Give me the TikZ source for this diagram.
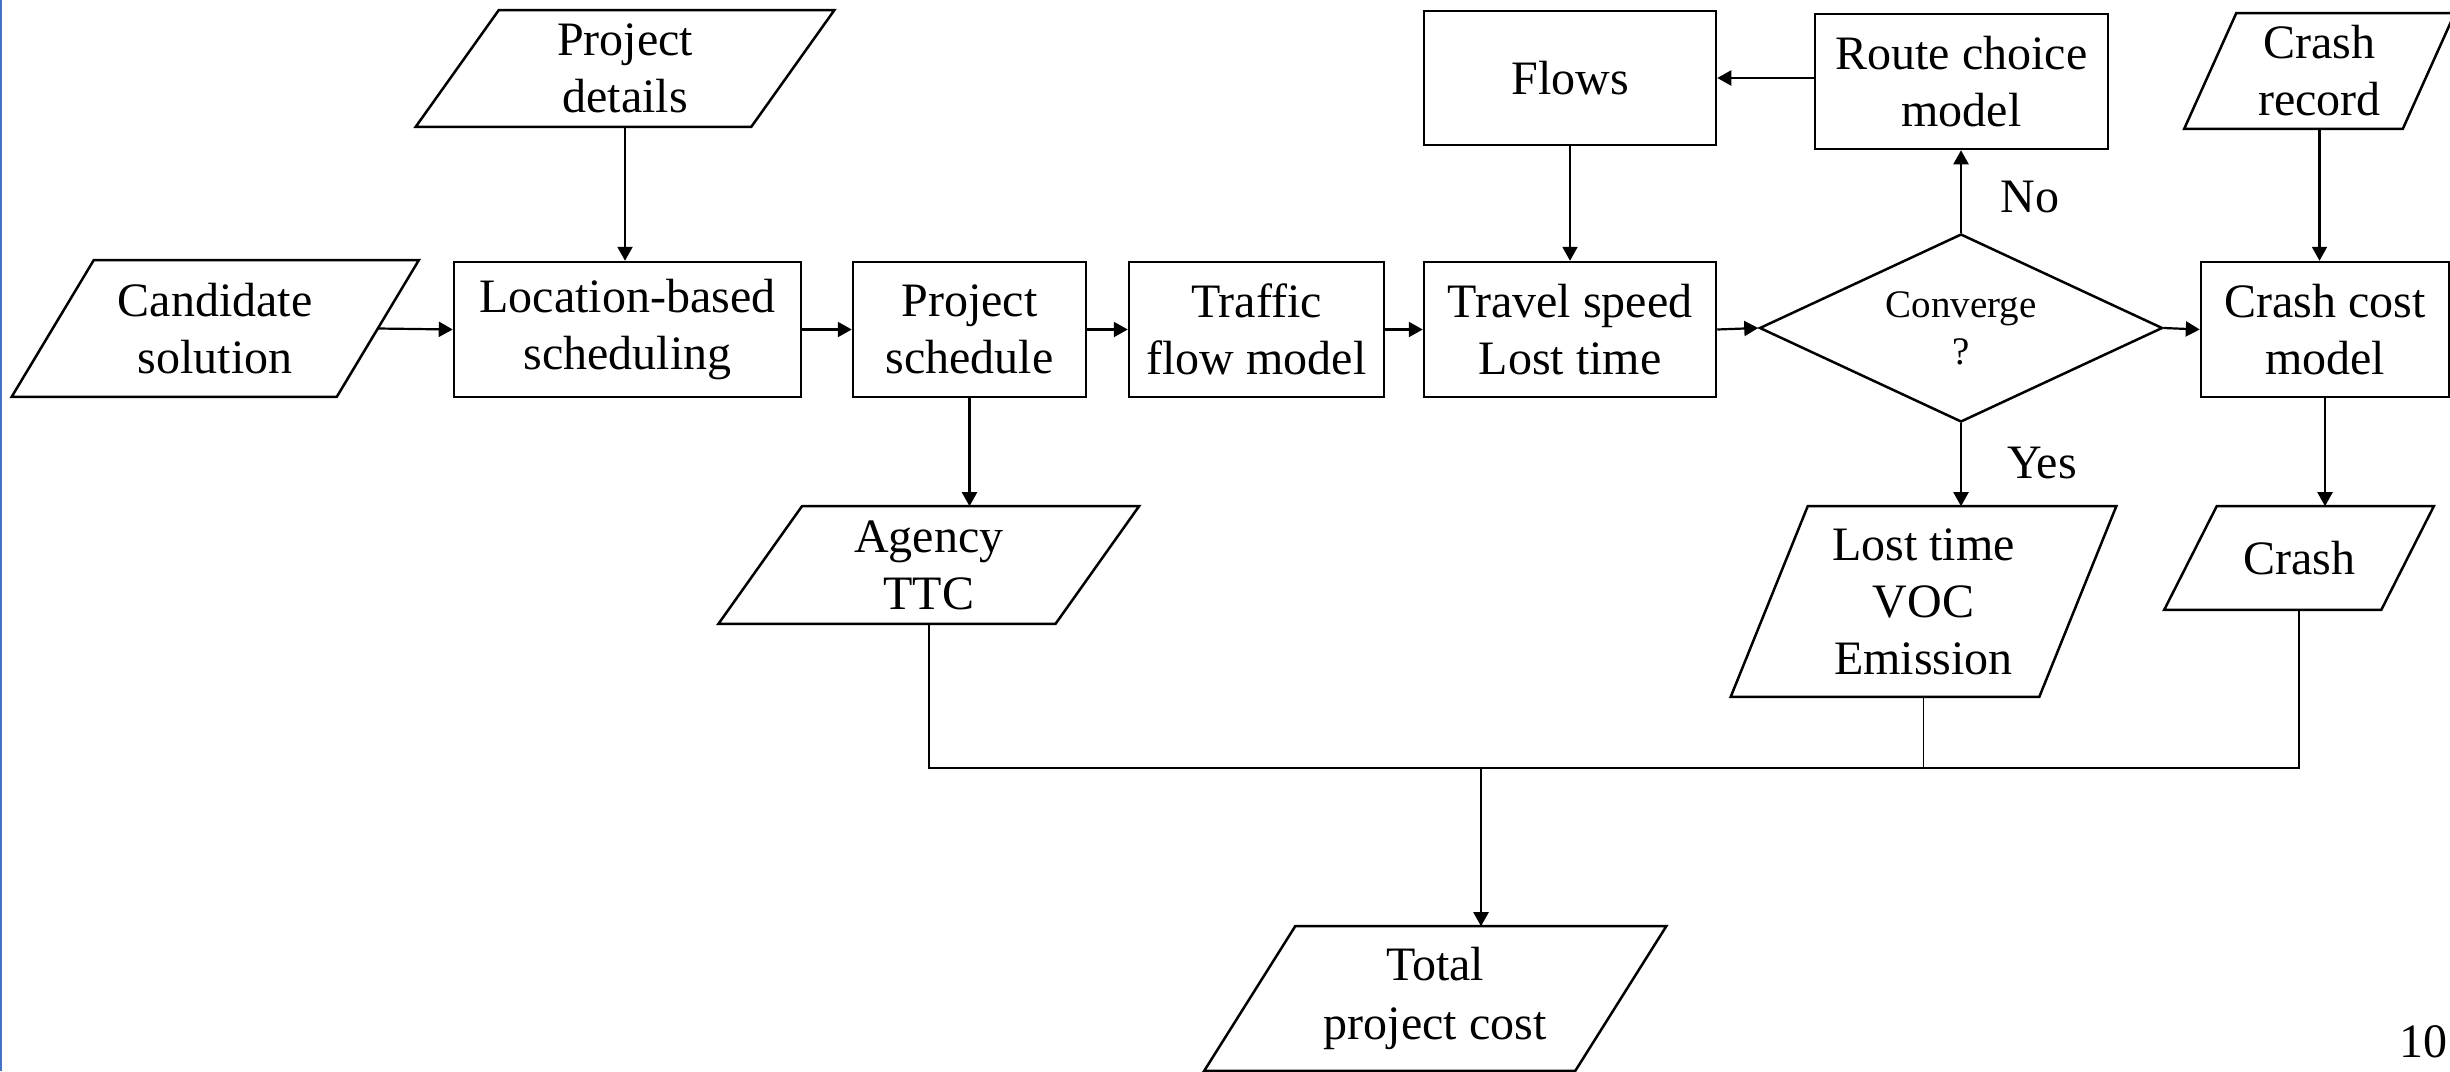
\documentclass[tikz,border=0pt]{standalone}
\usepackage{fontspec}
\setmainfont{Liberation Serif}
\usetikzlibrary{arrows.meta,shapes.geometric,calc}
\definecolor{edgeblue}{RGB}{68,114,196}
\begin{document}
\begin{tikzpicture}[x=0.25pt,y=-0.25pt,
  boxline/.style={line width=0.625pt},
  txt/.style={font=\fontsize{12}{14.25}\selectfont},
  proc/.style={draw, boxline, rectangle, inner sep=0pt, align=center, txt, minimum height=33.75pt},
  iobody/.style={rectangle, inner sep=0pt, align=center, txt},
  arr/.style={line width=0.55pt, -{Triangle[length=3.5pt,width=3.75pt]}},
  link/.style={line width=0.55pt},
  thinlink/.style={line width=0.25pt},
  lbl/.style={inner sep=0pt, txt}
]
\useasboundingbox (0,0) rectangle (2450,1071);
\draw[edgeblue, line width=0.4pt] (0.8,0) -- (0.8,1071);

% process boxes
\node[proc, minimum width=86.75pt] (loc) at (627.5,329.5) {Location-based\\scheduling};
\node[proc, minimum width=58.25pt] (sched) at (969.5,329.5) {Project\\schedule};
\node[proc, minimum width=63.75pt] (traffic) at (1256.5,329.5) {Traffic\\flow model};
\node[proc, minimum width=73pt] (travel) at (1570,329.5) {Travel speed\\Lost time};
\node[proc, minimum width=73pt, minimum height=33.5pt] (flows) at (1570,78) {Flows};
\node[proc, minimum width=73.25pt] (route) at (1961.5,81.5) {Route choice\\model};
\node[proc, minimum width=62pt] (ccost) at (2325,329.5) {Crash cost\\model};

% decision
\node[draw, boxline, diamond, inner sep=0pt, aspect=2.14, minimum width=100.75pt, minimum height=47pt,
      align=center, font=\fontsize{9.75}{11.75}\selectfont] (conv) at (1961,328) {Converge\\?};

% data (parallelogram) bodies
\node[iobody, minimum width=80.875pt, minimum height=33.75pt] (cand) at (215.25,328.5) {Candidate\\solution};
\node[iobody, minimum width=83.5pt, minimum height=28.75pt] (det) at (625,68.5) {Project\\details};
\node[iobody, minimum width=83.875pt, minimum height=29pt] (agency) at (928.75,565) {Agency\\TTC};
\node[iobody, minimum width=76.75pt, minimum height=47.25pt] (lost) at (1923.5,601.5) {Lost time\\VOC\\Emission};
\node[iobody, minimum width=53.875pt, minimum height=25.5pt] (crash) at (2299,558) {Crash};
\node[iobody, minimum width=54.25pt, minimum height=28.5pt] (crec) at (2319.5,71) {Crash\\record};
\node[iobody, minimum width=92.375pt, minimum height=35.75pt] (total) at (1435.25,998.5) {Total\\[0.5pt]project cost};

\foreach \n/\s in {cand/82,det/83,agency/83.5,lost/77,crash/52.5,crec/52,total/91}
  \draw[boxline, line join=miter]
    ([xshift=\s*0.125pt]\n.north west) -- ([xshift=\s*0.125pt]\n.north east)
    -- ([xshift=-\s*0.125pt]\n.south east) -- ([xshift=-\s*0.125pt]\n.south west) -- cycle;

% connectors
\draw[arr] (cand.east) -- (loc.west);
\draw[arr] (det.south) -- (det.south |- loc.north);
\draw[arr] (loc.east) -- (sched.west);
\draw[arr] (sched.east) -- (traffic.west);
\draw[arr] (traffic.east) -- (travel.west);
\draw[arr] (flows.south) -- (travel.north);
\draw[arr] (travel.east) -- (conv.west);
\draw[arr] (conv.east) -- (ccost.west);
\draw[arr] (conv.north) -- (conv.north |- route.south);
\draw[arr] (route.west |- flows.east) -- (flows.east);
\draw[arr] (crec.south) -- (crec.south |- ccost.north);
\draw[arr] (ccost.south) -- (ccost.south |- crash.north);
\draw[arr] (conv.south) -- (conv.south |- lost.north);
\draw[arr] (sched.south) -- (sched.south |- agency.north);

\coordinate (busj) at (1481,768);
\draw[link] (agency.south) -- (agency.south |- busj) -- (crash.south |- busj) -- (crash.south);
\draw[thinlink] (lost.south) -- (lost.south |- busj);
\draw[arr] (busj) -- (busj |- total.north);

% labels
\node[lbl] (no) at (2030,197) {No};
\node[lbl] (yes) at (2042,463) {Yes};
\node[lbl, anchor=base east] (pg) at (2448,1057) {10};
\end{tikzpicture}
\end{document}
